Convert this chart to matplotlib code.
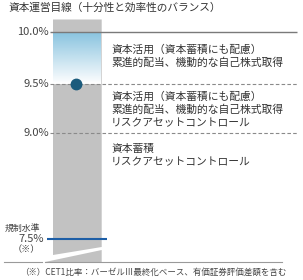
import numpy as np
import matplotlib
matplotlib.use("Agg")
import matplotlib.pyplot as plt
from matplotlib.colors import LinearSegmentedColormap
from matplotlib.patches import Polygon

plt.rcParams['font.family'] = ['Noto Sans CJK JP', 'DejaVu Sans']

# ---- data ----
title = "資本運営目線（十分性と効率性のバランス）"
levels = [10.0, 9.5, 9.0]
level_labels = ["10.0%", "9.5%", "9.0%"]
level_styles = ["solid", "dashed", "dashed"]
reg_level = 7.5
reg_labels = ["規制水準", "7.5%", "（※）"]
target_point = 9.5
zone_texts = [
    ["資本活用（資本蓄積にも配慮）", "累進的配当、機動的な自己株式取得"],
    ["資本活用（資本蓄積にも配慮）", "累進的配当、機動的な自己株式取得", "リスクアセットコントロール"],
    ["資本蓄積", "リスクアセットコントロール"],
]
footnote = "（※）CET1比率：バーゼルⅢ最終化ベース、有価証券評価差額を含む"

# ---- piecewise (broken) value scale: value -> pixels from bottom ----
W, H = 303, 280
kv = np.array([6.0, 7.5, 9.0, 9.5, 10.0, 11.0])
kp = H - np.array([345.0, 239.0, 133.0, 84.0, 32.0, -72.0])

def fwd(v):
    return np.interp(v, kv, kp)

def inv(p):
    return np.interp(p, kp, kv)

def val_at_px(py):
    return float(inv(H - py))

fig = plt.figure(figsize=(W / 100, H / 100), dpi=100)
ax = fig.add_axes([0, 0, 1, 1])
ax.set_yscale('function', functions=(fwd, inv))
ax.set_xlim(0, W)
ax.set_ylim(val_at_px(H), val_at_px(0))
ax.axis('off')

def ftxt(x, y, s, **kw):
    fig.text(x / W, 1 - y / H, s, **kw)

# bar (upper part, with break cut)
bar_l, bar_r = 53, 101.7
bar_top = val_at_px(19.5)
base = val_at_px(262)
cut_l, cut_r = val_at_px(255), val_at_px(247)
ax.add_patch(Polygon([(bar_l, bar_top), (bar_r, bar_top), (bar_r, cut_r), (bar_l, cut_l)],
                     closed=True, facecolor='#c2c2c2', edgecolor='none', zorder=1))
ax.add_patch(Polygon([(45, base), (bar_r, val_at_px(250)), (bar_r, base)],
                     closed=True, facecolor='#c2c2c2', edgecolor='none', zorder=1))

# gradient zone between 10.0 and 9.5
cmap = LinearSegmentedColormap.from_list('g', [(0.0, '#ffffff'), (0.08, '#f4f9fc'), (1.0, '#88c3df')])
grad = np.linspace(0, 1, 200).reshape(-1, 1)
ax.imshow(grad, extent=(bar_l, bar_r, levels[1], levels[0]), origin='lower',
          cmap=cmap, aspect='auto', zorder=2, interpolation='bilinear')

# level lines
for lv, lab, st in zip(levels, level_labels, level_styles):
    if st == 'solid':
        ax.plot([50, 297], [lv, lv], color='#7a7a7a', lw=1.0, zorder=3, solid_capstyle='butt')
    else:
        ax.plot([50, 297], [lv, lv], color='#8a8a8a', lw=0.8, zorder=3,
                linestyle=(0, (3.2, 2.0)))
    ax.text(49, lv, lab, ha='right', va='center', fontsize=8.0, color='#444444')

# regulatory line
ax.plot([47, 106.5], [reg_level, reg_level], color='#1d5ea6', lw=1.5, zorder=4,
        solid_capstyle='butt')
ax.text(44, reg_level, reg_labels[1], ha='right', va='center', fontsize=8.0, color='#444444')
ftxt(40, 228, reg_labels[0], ha='right', va='center', fontsize=6.4, color='#444444')
ftxt(40, 250, reg_labels[2], ha='right', va='center', fontsize=6.6, color='#444444')

# target point
ax.plot([76], [target_point], 'o', ms=7.5, color='#1b5b7c', zorder=5)

# baseline with break gap
ax.plot([4, 42], [base, base], color='#9a9a9a', lw=0.8, zorder=3)
ax.plot([45, 282], [base, base], color='#9a9a9a', lw=0.8, zorder=3)

# zone texts
zone_y = [[50, 62.5], [97, 110, 123], [149, 162]]
for lines, ys in zip(zone_texts, zone_y):
    for s, y in zip(lines, ys):
        ftxt(111, y, s, ha='left', va='center', fontsize=7.75, color='#333333')

ftxt(8, 8, title, ha='left', va='center', fontsize=7.7, color='#333333')
ftxt(153, 272, footnote, ha='center', va='center', fontsize=6.1, color='#444444')

fig.savefig('out.png', dpi=100)
